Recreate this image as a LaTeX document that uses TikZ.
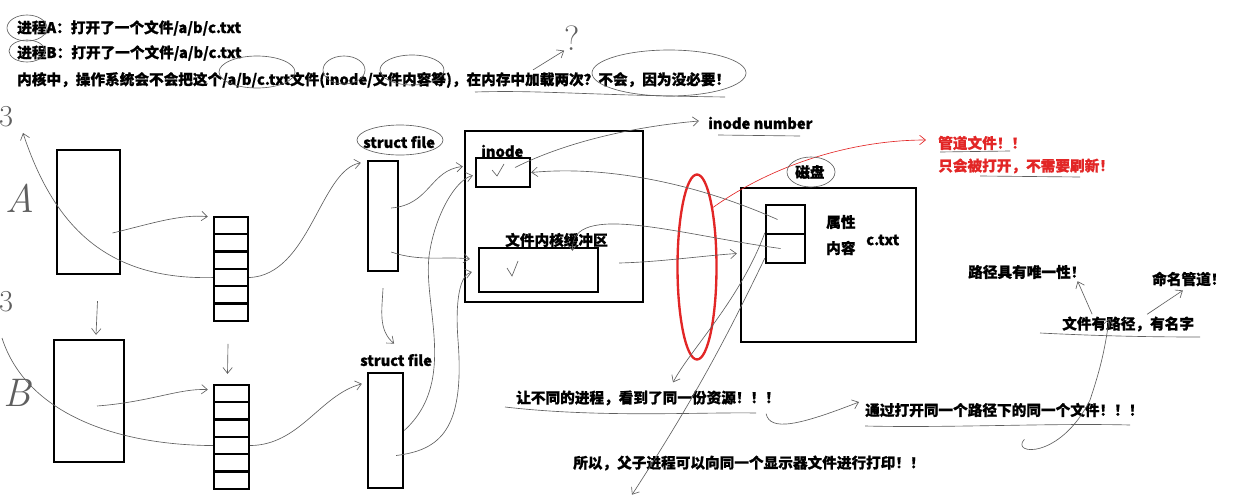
\documentclass[tikz,border=0pt]{standalone}
\usepackage{fontspec}
\setmainfont{Noto Sans CJK SC}[BoldFeatures={FakeBold=0.8}]
\usepackage{tikz}
\usetikzlibrary{arrows.meta,calc,fit,shapes.geometric}

\definecolor{penred}{RGB}{226,38,38}
\definecolor{pengray}{RGB}{95,95,95}

\tikzset{
  box/.style={draw, line width=2pt, inner sep=0pt},
  pen/.style={draw=pengray, line width=0.55pt},
  lbl/.style={anchor=west, inner sep=0pt, font=\bfseries\fontsize{12.5}{14}\selectfont},
  redlbl/.style={lbl, text=penred},
  hand/.style={inner sep=0pt, text=pengray, font=\fontfamily{lmr}\fontsize{34}{34}\selectfont\itshape},
  >={Straight Barb[length=5pt,width=8pt]}
}

\begin{document}
\begin{tikzpicture}[x=0.03cm, y=-0.03cm]
		\useasboundingbox (0,0) rectangle (1257,501);

		% Questions at the top
		\node[lbl] (tA) at (17,28) {进程A：打开了一个文件/a/b/c.txt};
		\node[lbl] (tB) at (17,53) {进程B：打开了一个文件/a/b/c.txt};
		\node[lbl] (tKernel) at (17,80) {内核中，操作系统会不会把这个/a/b/c.txt文件(inode/文件内容等)，在内存中加载两次？不会，因为没必要！};
		\node[hand, font=\fontfamily{lmr}\fontsize{30}{30}\selectfont] (qmark) at (572,38) {?};

		% Processes and their fd tables
		\node[hand] (hA) at (20,198) {A};
		\node[hand] (hB) at (17,393) {B};
		\node[hand, font=\fontfamily{lmr}\fontsize{26}{26}\selectfont] (h3a) at (6,117) {3};
		\node[hand, font=\fontfamily{lmr}\fontsize{26}{26}\selectfont] (h3b) at (6,302) {3};
		\node[box, fit={(57,150)(120,274)}] (procA) {};
		\node[box, fit={(54,340)(124,462)}] (procB) {};
		\foreach \i in {1,...,6} {
			\node[box, fit={(214,{217+17.3*(\i-1)}) (248,{217+17.3*\i})}] (fdA\i) {};
			\node[box, fit={(214,{385+17.3*(\i-1)}) (249,{385+17.3*\i})}] (fdB\i) {};
		}

		% struct file
		\node[lbl] (sfAlbl) at (363,142) {struct file};
		\node[lbl] (sfBlbl) at (360,360) {struct file};
		\node[box, fit={(368,161)(398,271)}] (sfA) {};
		\node[box, fit={(368,373)(403,488)}] (sfB) {};

		% Kernel side
		\node[box, fit={(465,131)(643,302)}] (kern) {};
		\node[box, fit={(476,158)(530,187)}] (inode) {};
		\node[lbl] (inodelbl) at (481,151) {inode};
		\node[box, fit={(479,248)(598,292)}] (buf) {};
		\node[lbl] (buflbl) at (505,240) {文件内核缓冲区};
		\node[lbl] (inodenum) at (708,123) {inode number};

		% Disk
		\node[box, fit={(741,188)(916,342)}] (disk) {};
		\node[box, fit={(766,205)(805,234)}] (attr) {};
		\node[box, fit={(766,234)(805,263)}] (content) {};
		\node[lbl] (disklbl) at (795,172) {磁盘};
		\node[lbl] (attrlbl) at (826,222) {属性};
		\node[lbl] (contlbl) at (826,248) {内容};
		\node[lbl] (ctxt) at (866,240) {c.txt};

		\node[draw=penred, line width=2pt, ellipse, minimum width=1.17cm, minimum height=5.55cm, inner sep=0pt] (ring) at (697,267) {};
		\node[redlbl] (tPipe) at (938,143) {管道文件！！};
		\node[redlbl] (tOnce) at (938,166) {只会被打开，不需要刷新！};

		% Notes
		\node[lbl] (tUnique) at (968,272) {路径具有唯一性！};
		\node[lbl] (tNamed) at (1152,279) {命名管道！};
		\node[lbl] (tName) at (1062,324) {文件有路径，有名字};
		\node[lbl] (tShare) at (516,398) {让不同的进程，看到了同一份资源！！！};
		\node[lbl] (tPath) at (865,410) {通过打开同一个路径下的同一个文件！！！};
		\node[lbl] (tPrint) at (573,463) {所以，父子进程可以向同一个显示器文件进行打印！！};

		% Pen strokes
		\draw[pen, ->] ($(tKernel.north west)+(516,-2)$) -- (qmark.south west);
		\draw[pen, ->] ($(procA.center)+(24,21)$) .. controls (150,224) and (180,214) .. ($(fdA1.west)+(-5,-9)$);
		\draw[pen, ->] ($(procB.center)+(8,5)$) .. controls (150,402) and (180,388) .. ($(fdB1.west)+(-5,-4)$);
		\draw[pen, ->] (fdA4.east) .. controls (310,275) and (320,170) .. ($(sfA.north west)+(-6,3)$);
		\draw[pen, ->] (fdB4.east) .. controls (300,445) and (320,395) .. ($(sfB.north west)+(-5,12)$);
		\draw[pen, ->] (fdA4.west) .. controls (110,280) and (55,230) .. (23,133);
		\draw[pen] (fdB4.west) .. controls (110,445) and (25,410) .. (2,338);
		\draw[pen, ->] ($(procA.south)+(9,26)$) -- ($(procB.north)+(7,-4)$);
		\draw[pen, ->] ($(fdA6.south)+(-3,22)$) -- ($(fdB1.north)+(-4,-10)$);
		\draw[pen, ->] ($(sfA.south)+(0,16)$) .. controls (382,310) and (378,330) .. ($(sfBlbl.north)+(-2,-10)$);
		\draw[pen, ->] ($(sfA.east)+(-8,-8)$) .. controls (430,205) and (430,170) .. ($(inode.west)+(-12,-6)$);
		\draw[pen, ->] ($(sfA.east)+(-8,36)$) .. controls (420,262) and (445,256) .. ($(buf.west)+(-8,-11)$);
		\draw[pen, ->] (sfB.east) .. controls (460,380) and (420,300) .. (430,250) .. controls (436,215) and (455,180) .. ($(inode.west)+(-2,3)$);
		\draw[pen, ->] ($(sfB.east)+(-8,25)$) .. controls (440,450) and (465,430) .. (458,340) .. controls (455,300) and (460,275) .. ($(buf.west)+(-6,2)$);
		\draw[pen, ->] ($(attr.center)+(-8,0)$) .. controls (700,185) and (610,165) .. (inode.east);
		\draw[pen, ->] ($(inode.center)+(12,-5)$) .. controls (570,140) and (640,126) .. ($(inodenum.west)+(-9,-2)$);
		\draw[pen, ->] ($(buf.east)+(20,-7)$) .. controls (660,262) and (700,256) .. ($(content.west)+(-28,5)$);
		\draw[pen, ->] ($(content.center)+(-5,0)$) .. controls (680,235) and (570,200) .. ($(buf.north)+(34,4)$);
		\draw[pen, ->] (content.north west) .. controls (740,300) and (690,350) .. ($(tShare.north)+(25,-8)$);
		\draw[pen, ->] ($(content.south west)+(0,-6)$) .. controls (730,330) and (700,390) .. ($(tPrint.south west)+(59,24)$);
		\draw[penred, line width=0.55pt, ->] (ring.75) .. controls (780,160) and (860,140) .. ($(tPipe.west)+(-12,-3)$);
		\draw[pen, ->] ($(tShare.south east)+(-14,8)$) .. controls (770,432) and (800,425) .. ($(tPath.west)+(-6,-8)$);
		\draw[pen, ->] ($(tPath.south)+(20,22)$) .. controls (1010,455) and (1060,460) .. (1090,400) .. controls (1100,370) and (1105,350) .. ($(tName.north)+(-19,2)$);
		\draw[pen, ->] ($(tName.north)+(-36,-2)$) -- ($(tUnique.south east)+(-8,2)$);
		\draw[pen, ->] ($(tName.north)+(19,-2)$) -- ($(tNamed.south)+(-6,4)$);

		% Rings and underlines
		\draw[pen] (27,28) ellipse [x radius=20, y radius=13];
		\draw[pen] (27,51) ellipse [x radius=18, y radius=11];
		\draw[pen] (257,72) ellipse [x radius=38, y radius=16];
		\draw[pen] (344,70) ellipse [x radius=21, y radius=14];
		\draw[pen] (412,70) ellipse [x radius=32, y radius=15];
		\draw[pen] (669,73) ellipse [x radius=77, y radius=23];
		\draw[pen] (400,140) ellipse [x radius=43, y radius=15];
		\draw[pen] (811,172) ellipse [x radius=24, y radius=15];
		\draw[pen] (475,92) .. controls (540,90) and (580,95) .. (725,97);
		\draw[pen] (718,135) -- (800,136);
		\draw[pen] (940,152) -- (1010,151);
		\draw[pen] (980,176) -- (1080,177);
		\draw[pen] (505,407) .. controls (600,418) and (700,412) .. (756,413);
		\draw[pen] (865,426) .. controls (950,428) and (1050,423) .. (1130,425);
		\draw[pen] (1040,333) .. controls (1100,336) and (1150,337) .. (1200,337);

		% Ticks
		\draw[pen] (492,170) -- (497,176) -- (504,164);
		\draw[pen] (507,268) -- (512,276) -- (518,261);
	\end{tikzpicture}
\end{document}
